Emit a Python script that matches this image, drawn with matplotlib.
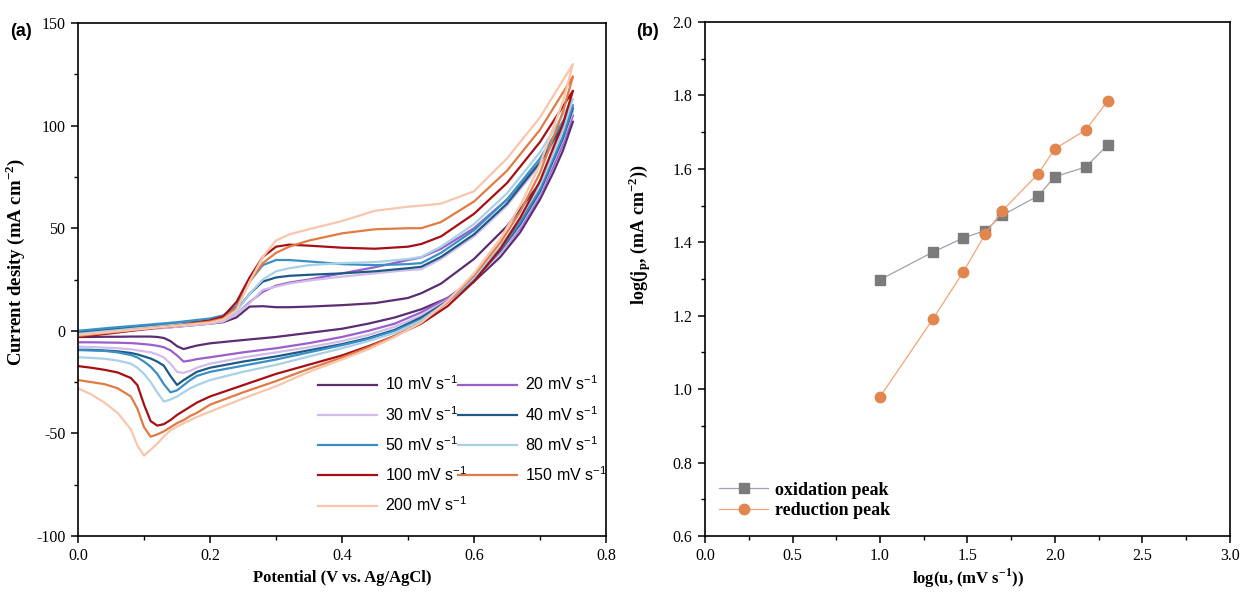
import matplotlib
matplotlib.use("Agg")
import matplotlib.pyplot as plt
from matplotlib.ticker import MultipleLocator

plt.rcParams['font.family'] = ['Liberation Serif', 'DejaVu Serif']
plt.rcParams['mathtext.fontset'] = 'custom'
plt.rcParams['mathtext.rm'] = 'Liberation Serif'
plt.rcParams['mathtext.bf'] = 'Liberation Serif:bold'
plt.rcParams['axes.unicode_minus'] = False

# ---- panel (a): CV curves at different scan rates ----
rates = [10, 20, 30, 40, 50, 80, 100, 150, 200]
colors = ['#5b2d72', '#9b5fcc', '#d2bdea', '#1d5b86', '#3b8fc6',
          '#a8d1e8', '#a50f15', '#e07b45', '#f8c6ad']

# anodic (forward) sweep, potential grid shared by all rates
e_fwd = [0.0, 0.05, 0.10, 0.15, 0.20, 0.22, 0.24, 0.26, 0.28, 0.30, 0.32,
         0.35, 0.40, 0.45, 0.50, 0.52, 0.55, 0.60, 0.65, 0.70, 0.75]
j_fwd_10 = [-1.5, -0.5, 0.8, 2, 3.5, 4.2, 6.5, 11.8, 12, 11.5, 11.5, 11.8, 12.5, 13.5, 16, 18.3, 23, 35, 51, 72, 102]
j_fwd_20 = [-2, -0.5, 1, 2.5, 4, 5, 8, 14, 19, 22, 23.5, 25, 28, 31, 34.5, 35.8, 40, 50, 64, 82, 105]
j_fwd_30 = [-2.5, -1, 0.5, 2, 3.5, 4.5, 8, 13.5, 20, 21.5, 23, 24.5, 26.4, 28, 29.6, 30, 35, 46, 61, 81, 107]
j_fwd_40 = [-0.8, 0.8, 2, 3.5, 5, 6, 10, 18, 24, 26, 26.8, 27.3, 28, 29, 30.5, 31.2, 36, 47, 62, 82, 108.5]
j_fwd_50 = [0, 1.5, 2.8, 4.2, 6, 7.5, 12, 24, 32, 34.5, 34.5, 33.8, 32.5, 32, 32.5, 33, 38, 49, 64, 84, 110]
j_fwd_80 = [-1.5, 0, 1.5, 3, 4.5, 5.5, 9.5, 18, 25, 29, 30.5, 32, 33, 33.5, 35, 36, 41, 52, 67, 87, 113]
j_fwd_100 = [-3, -1.2, 0.8, 2.5, 5, 7, 14, 26, 36, 41, 42, 41.5, 40.5, 40, 41, 42.3, 46, 57, 72, 92, 117]
j_fwd_150 = [-2.5, -0.8, 1, 2.5, 4.5, 6, 11, 24, 33, 38, 41, 44, 47.5, 49.5, 50, 50, 53, 63, 78, 98, 124]
j_fwd_200 = [-2, -0.5, 1, 2.5, 4, 5.5, 10, 24, 36, 44, 47, 49.5, 53.5, 58.5, 60.5, 61, 62, 68, 84, 104, 130]

# cathodic (reverse) sweep, from 0.75 V back to 0 V
e_rev = [0.75, 0.735, 0.72, 0.70, 0.67, 0.64, 0.60, 0.56, 0.52, 0.48, 0.44,
         0.40, 0.35, 0.30, 0.25, 0.20, 0.18, 0.17, 0.16, 0.15, 0.14, 0.13,
         0.12, 0.11, 0.10, 0.09, 0.08, 0.06, 0.04, 0.02, 0.0]
j_rev_10 = [102, 88, 77, 64, 48, 36, 24, 16, 10.5, 6.5, 3.5, 1, -1, -3, -4.5, -6.1, -7.2, -8, -8.9, -7.5,
            -5, -3.5, -3, -2.8, -2.8, -2.8, -2.8, -2.9, -2.9, -3, -3]
j_rev_20 = [105, 91, 80, 66, 50, 38, 25.5, 16, 9, 3.5, 0, -3, -6, -8.5, -10.5, -12.9, -13.8, -14.5, -15, -12,
            -9.5, -8, -7.3, -6.8, -6.5, -6.2, -6, -5.8, -5.7, -5.6, -5.6]
j_rev_30 = [107, 93, 82, 67, 51, 38, 25, 15, 7.5, 2, -2, -5, -8, -10.5, -13, -16, -18, -19.5, -20.5, -20,
            -16, -13, -11.5, -10.5, -10, -9.5, -9, -8.5, -8.2, -7.9, -7.7]
j_rev_40 = [108.5, 94, 83, 68, 52, 39, 25, 14.5, 6.5, 0.5, -3.5, -6.5, -9.5, -12.5, -15, -18, -20, -22, -24, -26.4,
            -22, -17, -15, -13.5, -12.5, -11.5, -10.8, -10, -9.6, -9.3, -9.2]
j_rev_50 = [110, 95, 84, 69, 53, 39.5, 25, 14, 5.5, 0, -4, -7, -10.5, -14, -17, -20, -22, -24, -26.5, -29,
            -30, -26, -21, -17.5, -15, -13, -11.8, -10.5, -9.8, -9.6, -9.4]
j_rev_80 = [113, 98, 86, 71, 55, 41, 26, 14, 5, -1, -5, -8.5, -12.5, -16.6, -20, -24, -26.5, -28, -30, -32,
            -33.5, -34.5, -30, -25, -21, -18, -16, -14.5, -13.6, -13.2, -12.9]
j_rev_100 = [117, 101, 89, 73, 55, 40, 24, 12, 3.5, -2.5, -7.5, -12, -16.5, -21, -26.5, -32, -35, -37, -39, -41,
             -43.5, -45.5, -46.2, -44, -36, -26.5, -23, -20.3, -19, -18, -17.2]
j_rev_150 = [124, 107, 94, 77, 58, 43, 27, 14, 4, -2.5, -8, -13, -18.5, -24.5, -30, -36, -40, -41.5, -43.5, -45,
             -47, -49, -50.5, -51.6, -47, -38, -32, -28, -26, -25, -24]
j_rev_200 = [130, 112, 99, 81, 61, 45, 28, 14.5, 4, -3, -9, -14, -20, -27, -33, -39.4, -42, -43.5, -45, -46.7,
             -48.5, -51.5, -55, -58, -60.8, -56, -48, -40, -35, -31, -28]

fwd_sets = [j_fwd_10, j_fwd_20, j_fwd_30, j_fwd_40, j_fwd_50, j_fwd_80, j_fwd_100, j_fwd_150, j_fwd_200]
rev_sets = [j_rev_10, j_rev_20, j_rev_30, j_rev_40, j_rev_50, j_rev_80, j_rev_100, j_rev_150, j_rev_200]

# ---- panel (b): log peak current vs log scan rate ----
log_u = [1.0, 1.301, 1.477, 1.602, 1.699, 1.903, 2.0, 2.176, 2.301]
log_j_ox = [1.298, 1.373, 1.412, 1.432, 1.474, 1.526, 1.579, 1.605, 1.665]
log_j_red = [0.979, 1.190, 1.320, 1.423, 1.486, 1.586, 1.655, 1.706, 1.785]

fig = plt.figure(figsize=(12.43, 5.92), dpi=100)
ax1 = fig.add_axes([0.0628, 0.0946, 0.4247, 0.8665])
ax2 = fig.add_axes([0.5672, 0.0946, 0.4223, 0.8682])

handles = {}
for r, c, jf, jr in zip(rates, colors, fwd_sets, rev_sets):
    ln, = ax1.plot(e_fwd + e_rev, jf + jr, color=c, lw=1.6,
                   label=r'%d mV s$^{\mathregular{-1}}$' % r)
    handles[r] = ln

ax1.set_xlim(0, 0.8)
ax1.set_ylim(-100, 150)
ax1.xaxis.set_major_locator(MultipleLocator(0.2))
ax1.xaxis.set_minor_locator(MultipleLocator(0.1))
ax1.yaxis.set_major_locator(MultipleLocator(50))
ax1.yaxis.set_minor_locator(MultipleLocator(25))
ax1.set_xlabel('Potential (V vs. Ag/AgCl)', fontsize=12, fontweight='bold', va='center')
ax1.set_ylabel(r'Current desity (mA cm$^{\mathregular{-2}}$)', fontsize=13.5, fontweight='bold')
ax1.xaxis.set_label_coords(0.5, -0.082)
ax1.yaxis.set_label_coords(-0.097, 0.534)

order = [10, 30, 50, 100, 200, 20, 40, 80, 150]
ax1.legend([handles[r] for r in order], [handles[r].get_label() for r in order],
           ncol=2, loc='upper left', bbox_to_anchor=(0.44, 0.33), frameon=False,
           prop={'family': 'Liberation Sans', 'size': 11.5},
           handlelength=3.7, handletextpad=0.5, labelspacing=0.72,
           columnspacing=-0.6, borderpad=0)

ax2.plot(log_u, log_j_ox, color='#a39fae', lw=0.9, marker='s', ms=6.5,
         mfc='#7b7b7b', mec='#7b7b7b', label='oxidation peak')
ax2.plot(log_u, log_j_red, color='#f2a47c', lw=0.9, marker='o', ms=7.5,
         mfc='#e2864f', mec='#e2864f', label='reduction peak')
ax2.set_xlim(0, 3.0)
ax2.set_ylim(0.6, 2.0)
ax2.xaxis.set_major_locator(MultipleLocator(0.5))
ax2.xaxis.set_minor_locator(MultipleLocator(0.25))
ax2.yaxis.set_major_locator(MultipleLocator(0.2))
ax2.yaxis.set_minor_locator(MultipleLocator(0.1))
ax2.set_xlabel(r'log(u, (mV s$^{\mathregular{-1}}$))', fontsize=12, fontweight='bold', va='center')
ax2.set_ylabel(r'log(j$_{\mathregular{p}}$, (mA cm$^{\mathregular{-2}}$))', fontsize=13, fontweight='bold')
ax2.xaxis.set_label_coords(0.5, -0.082)
ax2.yaxis.set_label_coords(-0.099, 0.586)
ax2.legend(loc='lower left', bbox_to_anchor=(0.01, 0.015), frameon=False,
           prop={'family': 'Liberation Serif', 'weight': 'bold', 'size': 13},
           handlelength=2.7, handletextpad=0.4, labelspacing=0.2, borderpad=0)

for ax in (ax1, ax2):
    for sp in ax.spines.values():
        sp.set_linewidth(1.2)
    ax.tick_params(which='major', direction='out', length=5, width=1.1, labelsize=11.5, pad=4)
    ax.tick_params(which='minor', direction='out', length=3, width=1.0)
    ax.tick_params(top=False, right=False, which='both')

fig.text(0.008, 0.94, '(a)', fontsize=13, fontweight='bold', family='Liberation Sans')
fig.text(0.512, 0.94, '(b)', fontsize=13, fontweight='bold', family='Liberation Sans')

fig.savefig('out.png', dpi=100)
